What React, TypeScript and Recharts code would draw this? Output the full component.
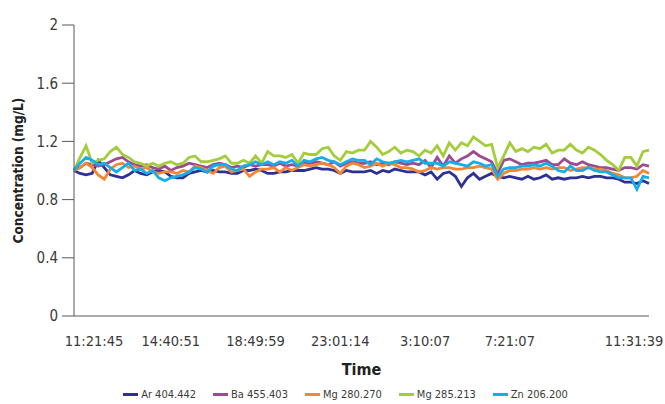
import { LineChart, Line, XAxis, YAxis, Legend } from "recharts";

const FONT = "'Liberation Sans Narrow', 'DejaVu Sans Condensed', 'Liberation Sans', sans-serif";

const seriesNames = ["Ar 404.442", "Ba 455.403", "Mg 280.270", "Mg 285.213", "Zn 206.200"];
const seriesColors = ["#2e3192", "#9c4a92", "#f58634", "#a3cd3b", "#15aee9"];

const ar = [
  1.0, 0.98, 0.97, 0.98, 1.07, 1.02, 0.97, 0.96, 0.95, 0.97, 1.0, 0.98, 0.97, 0.99, 1.0, 0.99,
  0.96, 0.95, 0.95, 0.98, 0.99, 1.0, 0.99, 1.0, 0.99, 0.99, 0.98, 0.98, 1.0, 1.0, 1.01, 1.0,
  0.98, 0.98, 0.99, 0.99, 1.0, 1.0, 1.0, 1.01, 1.02, 1.01, 1.01, 1.0, 0.98, 1.0, 0.99, 0.99,
  0.99, 1.0, 0.98, 1.0, 0.99, 1.01, 1.0, 0.99, 0.99, 0.99, 0.97, 0.99, 0.94, 0.98, 0.99, 0.96,
  0.89, 0.95, 0.98, 0.94, 0.96, 0.98, 0.96, 0.95, 0.96, 0.95, 0.94, 0.96, 0.94, 0.95, 0.97, 0.94,
  0.95, 0.94, 0.95, 0.95, 0.96, 0.95, 0.96, 0.96, 0.95, 0.95, 0.94, 0.92, 0.92, 0.91, 0.93, 0.91,
];
const ba = [
  1.0, 1.02, 1.05, 1.04, 1.03, 1.04, 1.06, 1.08, 1.09, 1.06, 1.04, 1.03, 1.04, 1.02, 1.01, 1.03,
  1.0, 1.02, 1.03, 1.05, 1.04, 1.03, 1.02, 1.04, 1.05, 1.04, 1.02, 1.03, 1.02, 1.04, 1.03, 1.04,
  1.04, 1.03, 1.05, 1.03, 1.04, 1.03, 1.05, 1.05, 1.06, 1.05, 1.04, 1.06, 1.03, 1.05, 1.06, 1.05,
  1.05, 1.06, 1.04, 1.05, 1.04, 1.06, 1.05, 1.04, 1.05, 1.04, 1.07, 1.02, 1.09, 1.03, 1.1, 1.05,
  1.08, 1.1, 1.13, 1.1, 1.08, 1.06, 0.98, 1.07, 1.08, 1.06, 1.04, 1.05, 1.05, 1.06, 1.07, 1.04,
  1.04, 1.08, 1.05, 1.04, 1.06, 1.04, 1.03, 1.02, 1.02, 1.01, 1.0, 1.02, 1.02, 1.01, 1.04, 1.03,
];
const mg280 = [
  1.0, 1.02, 1.05, 1.02, 0.97, 0.94, 1.01, 1.04, 1.05, 1.02, 1.03, 1.01, 1.02, 0.99, 0.98, 0.99,
  0.99, 0.98, 1.0, 0.99, 1.03, 1.02, 1.0, 0.98, 1.02, 1.03, 0.99, 1.0, 1.01, 0.96, 0.99, 1.01,
  1.01, 1.02, 0.99, 1.02, 1.0, 1.02, 1.04, 1.03, 1.04, 1.05, 1.04, 1.02, 0.98, 1.03, 1.05, 1.04,
  1.02, 1.03, 1.05, 1.03, 1.05, 1.04, 1.02, 1.02, 1.01, 0.99, 1.0, 1.02, 1.01, 1.02, 1.02, 1.01,
  1.01, 1.02, 1.02, 1.03, 1.02, 1.01, 0.94, 0.98, 1.0, 1.0, 1.01, 1.01, 1.02, 1.01, 1.02, 1.01,
  1.02, 1.02, 1.0, 1.01, 1.02, 1.02, 1.01, 1.01, 1.0, 0.98, 0.97, 0.95, 0.95, 0.96, 1.0, 0.98,
];
const mg285 = [
  1.0, 1.09, 1.17, 1.05, 1.07, 1.08, 1.13, 1.16, 1.11, 1.09, 1.06, 1.05, 1.03, 1.05, 1.03, 1.05,
  1.06, 1.04, 1.05, 1.09, 1.1, 1.06, 1.06, 1.07, 1.08, 1.1, 1.05, 1.05, 1.07, 1.05, 1.1, 1.05,
  1.13, 1.1, 1.1, 1.09, 1.11, 1.05, 1.12, 1.11, 1.11, 1.15, 1.16, 1.1, 1.07, 1.13, 1.12, 1.14,
  1.14, 1.2, 1.16, 1.11, 1.13, 1.16, 1.12, 1.14, 1.13, 1.1, 1.14, 1.12, 1.17, 1.1, 1.19, 1.14,
  1.19, 1.17, 1.23, 1.2, 1.17, 1.18, 1.02, 1.1, 1.19, 1.13, 1.15, 1.13, 1.16, 1.15, 1.18, 1.12,
  1.14, 1.14, 1.18, 1.14, 1.12, 1.16, 1.14, 1.11, 1.07, 1.04, 1.0, 1.09, 1.09, 1.03, 1.13, 1.14,
];
const zn = [
  1.0, 1.05, 1.09, 1.07, 1.04, 1.05, 1.02, 0.99, 1.02, 1.05, 1.0, 1.01, 0.98, 1.0, 0.95, 0.93,
  0.95, 0.96, 0.97, 0.99, 1.02, 1.01, 0.99, 1.03, 1.04, 1.04, 1.01, 1.0, 1.03, 1.04, 1.06, 1.04,
  1.06, 1.04, 1.06, 1.05, 1.07, 1.03, 1.07, 1.06, 1.08, 1.09, 1.07, 1.06, 1.04, 1.06, 1.08, 1.07,
  1.07, 1.04, 1.08, 1.06, 1.05, 1.06, 1.07, 1.06, 1.07, 1.08, 1.05, 1.05, 1.05, 1.03, 1.06, 1.05,
  1.04, 1.03, 1.06, 1.05, 1.03, 1.04, 0.96, 1.01, 1.02, 1.02, 1.03, 1.03, 1.04, 1.03, 1.05, 1.03,
  1.0, 0.99, 1.03, 1.0, 1.0, 1.02, 1.0, 0.99, 0.99, 0.97, 0.95, 0.95, 0.95, 0.87, 0.96, 0.95,
];

const tickIndex = [0, 16, 30, 44, 58, 72, 95];
const tickLabels = ["11:21:45", "14:40:51", "18:49:59", "23:01:14", "3:10:07", "7:21:07", "11:31:39"];
const yTicks = [0, 0.4, 0.8, 1.2, 1.6, 2];

const seriesValues = [ar, ba, mg280, mg285, zn];
const data = ar.map((_, i) => {
  const row: Record<string, number> = { idx: i };
  seriesNames.forEach((name, s) => {
    row[name] = seriesValues[s][i];
  });
  return row;
});

const XTick = (props: any) => {
  const { x, y, payload } = props;
  const pos = tickIndex.indexOf(payload.value);
  // keep the end labels inside the frame
  let dx = 0;
  if (pos === 0) dx = 20;
  if (pos === tickIndex.length - 1) dx = -15;
  return (
    <text x={x + dx} y={y + 22} textAnchor="middle" fill="#3a3a3a" fontSize={14.5} fontFamily={FONT}>
      {tickLabels[pos]}
    </text>
  );
};

const LegendContent = () => (
  <div style={{ height: 20, display: "flex", justifyContent: "center", alignItems: "center", gap: 17, paddingLeft: 26, fontFamily: FONT, fontSize: 11, color: "#3a3a3a" }}>
    {seriesNames.map((name, i) => (
      <span key={name} style={{ display: "flex", alignItems: "center", gap: 3 }}>
        <span style={{ width: 15, height: 3, background: seriesColors[i], display: "inline-block" }} />
        {name}
      </span>
    ))}
  </div>
);

export default function App() {
  return (
    <div style={{ position: "fixed", left: 0, top: 0, width: 665, height: 404, background: "#fff" }}>
      <LineChart width={665} height={404} data={data} margin={{ top: 25, right: 16, bottom: 0, left: 0 }}>
        <XAxis
          dataKey="idx"
          type="number"
          domain={[0, 95]}
          ticks={tickIndex}
          tick={<XTick />}
          tickLine={false}
          axisLine={{ stroke: "#595959", strokeWidth: 1 }}
          interval={0}
          height={68}
          label={{
            content: (p: any) => (
              <text x={p.viewBox.x + p.viewBox.width / 2} y={375} textAnchor="middle" fontWeight="bold" fontSize={16} fill="#222" fontFamily={FONT}>
                Time
              </text>
            ),
          }}
        />
        <YAxis
          domain={[0, 2]}
          ticks={yTicks}
          width={74}
          tickLine={{ stroke: "#595959" }}
          tickSize={12}
          axisLine={{ stroke: "#595959", strokeWidth: 1 }}
          tick={{ fill: "#3a3a3a", fontSize: 15, fontFamily: FONT, dx: -2 }}
          tickFormatter={(v: number) => String(v)}
          label={{
            content: (p: any) => {
              const cy = p.viewBox.y + p.viewBox.height / 2;
              return (
                <text x={23} y={cy} transform={`rotate(-90, 23, ${cy})`} textAnchor="middle" fontWeight="bold" fontSize={13.5} fill="#222" fontFamily={FONT}>
                  Concentration (mg/L)
                </text>
              );
            },
          }}
        />
        <Legend verticalAlign="bottom" content={<LegendContent />} wrapperStyle={{ bottom: 0, left: 0, width: 665 }} />
        {seriesNames.map((name, i) => (
          <Line
            key={name}
            type="linear"
            dataKey={name}
            stroke={seriesColors[i]}
            strokeWidth={2.8}
            dot={false}
            isAnimationActive={false}
          />
        ))}
      </LineChart>
    </div>
  );
}
